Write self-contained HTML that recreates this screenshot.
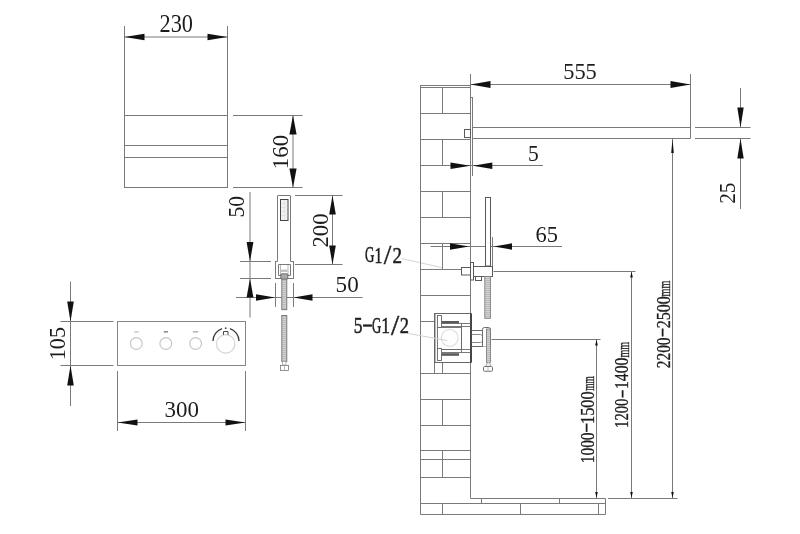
<!DOCTYPE html>
<html><head><meta charset="utf-8"><title>Drawing</title>
<style>html,body{margin:0;padding:0;background:#fff;width:800px;height:534px;overflow:hidden}svg{display:block;filter:grayscale(1)}</style>
</head><body>
<svg width="800" height="534" viewBox="0 0 800 534">
<defs><pattern id="rib" width="3" height="2" patternUnits="userSpaceOnUse"><rect width="3" height="2" fill="#d2d2d2"/><rect width="3" height="0.7" fill="#b0b0b0"/></pattern></defs>
<rect width="800" height="534" fill="#fff"/>
<g fill="none"><circle cx="136.3" cy="343.5" r="5.9" fill="none" stroke="#c6c6c6" stroke-width="1.2"/><rect x="134.1" y="331.2" width="4.5" height="1.3" fill="#c4c4c4"/><circle cx="165.8" cy="343.5" r="5.9" fill="none" stroke="#c6c6c6" stroke-width="1.2"/><rect x="163.7" y="331.2" width="4.3" height="1.3" fill="#777"/><circle cx="195.6" cy="343.5" r="5.9" fill="none" stroke="#c6c6c6" stroke-width="1.2"/><rect x="192.8" y="331.2" width="5.5" height="1.3" fill="#aaa"/><circle cx="225.7" cy="343.9" r="9.2" fill="none" stroke="#d4d4d4" stroke-width="1.2"/><line x1="401.5" y1="258.5" x2="442.5" y2="267.8" stroke="#d4d4d4" stroke-width="1"/></g>
<g stroke="#7a7a7a" stroke-width="1" fill="none"><line x1="124.5" y1="26" x2="124.5" y2="188"/><line x1="227.5" y1="26" x2="227.5" y2="188"/><line x1="124.5" y1="115.5" x2="227.5" y2="115.5"/><line x1="124.5" y1="145.5" x2="227.5" y2="145.5"/><line x1="124.5" y1="157.5" x2="227.5" y2="157.5"/><line x1="124.5" y1="187.5" x2="227.5" y2="187.5"/><line x1="124.5" y1="37" x2="227.5" y2="37"/><line x1="233" y1="115.5" x2="302.5" y2="115.5"/><line x1="233" y1="187.5" x2="302.5" y2="187.5"/><line x1="293" y1="115.5" x2="293" y2="187.5"/><line x1="277.5" y1="196" x2="277.5" y2="261.5"/><line x1="290.5" y1="196" x2="290.5" y2="261.5"/><line x1="277.5" y1="195.5" x2="290.5" y2="195.5"/><line x1="277.5" y1="261.5" x2="275.5" y2="261.5"/><line x1="293.5" y1="261.5" x2="290.5" y2="261.5"/><line x1="275.5" y1="261" x2="275.5" y2="279"/><line x1="293.5" y1="261" x2="293.5" y2="279"/><line x1="275" y1="278.5" x2="281" y2="278.5"/><line x1="287.5" y1="278.5" x2="294" y2="278.5"/><line x1="278.5" y1="264.5" x2="290.5" y2="264.5"/><line x1="278.5" y1="264.5" x2="278.5" y2="275.5"/><line x1="290.5" y1="264.5" x2="290.5" y2="275.5"/><line x1="278.5" y1="275.5" x2="281" y2="275.5"/><line x1="287.5" y1="275.5" x2="290.5" y2="275.5"/><line x1="275.5" y1="283" x2="275.5" y2="307"/><line x1="293.5" y1="283" x2="293.5" y2="307"/><line x1="240" y1="261.5" x2="271" y2="261.5"/><line x1="240" y1="278.5" x2="271" y2="278.5"/><line x1="250" y1="192" x2="250" y2="317.5"/><line x1="295" y1="195.5" x2="342.5" y2="195.5"/><line x1="295" y1="264.5" x2="342.5" y2="264.5"/><line x1="332.5" y1="195.5" x2="332.5" y2="264.5"/><line x1="236" y1="297.5" x2="362.5" y2="297.5"/><line x1="60.5" y1="321.5" x2="113.5" y2="321.5"/><line x1="60.5" y1="365.5" x2="113.5" y2="365.5"/><line x1="70.5" y1="281.5" x2="70.5" y2="406"/><line x1="117.5" y1="371" x2="117.5" y2="431"/><line x1="245.5" y1="371" x2="245.5" y2="431"/><line x1="117.5" y1="422.5" x2="245.5" y2="422.5"/><line x1="420.5" y1="85" x2="420.5" y2="514.5"/><line x1="470.5" y1="74" x2="470.5" y2="498.5"/><line x1="420.5" y1="85.5" x2="470.5" y2="85.5"/><line x1="420.5" y1="87.5" x2="470.5" y2="87.5"/><line x1="420.5" y1="113.5" x2="470.5" y2="113.5"/><line x1="420.5" y1="139.5" x2="470.5" y2="139.5"/><line x1="420.5" y1="165.5" x2="470.5" y2="165.5"/><line x1="420.5" y1="191.5" x2="470.5" y2="191.5"/><line x1="420.5" y1="217.5" x2="470.5" y2="217.5"/><line x1="420.5" y1="243.5" x2="470.5" y2="243.5"/><line x1="420.5" y1="269.5" x2="470.5" y2="269.5"/><line x1="420.5" y1="295.5" x2="470.5" y2="295.5"/><line x1="420.5" y1="373.5" x2="470.5" y2="373.5"/><line x1="420.5" y1="399.5" x2="470.5" y2="399.5"/><line x1="420.5" y1="425.5" x2="470.5" y2="425.5"/><line x1="420.5" y1="450.5" x2="470.5" y2="450.5"/><line x1="420.5" y1="459.5" x2="470.5" y2="459.5"/><line x1="420.5" y1="477.5" x2="470.5" y2="477.5"/><line x1="420.5" y1="321.5" x2="434.5" y2="321.5"/><line x1="442.5" y1="87.5" x2="442.5" y2="113.5"/><line x1="442.5" y1="139.5" x2="442.5" y2="165.5"/><line x1="442.5" y1="191.5" x2="442.5" y2="217.5"/><line x1="442.5" y1="243.5" x2="442.5" y2="269.5"/><line x1="442.5" y1="362" x2="442.5" y2="373.5"/><line x1="442.5" y1="399.5" x2="442.5" y2="425.5"/><line x1="442.5" y1="450.5" x2="442.5" y2="477.5"/><line x1="434.5" y1="362" x2="434.5" y2="373.5"/><line x1="470.5" y1="498.5" x2="605.5" y2="498.5"/><line x1="608" y1="498.5" x2="677.5" y2="498.5"/><line x1="420.5" y1="503.5" x2="605.5" y2="503.5"/><line x1="420.5" y1="514.5" x2="605.5" y2="514.5"/><line x1="605.5" y1="498.5" x2="605.5" y2="514.5"/><line x1="481.5" y1="498.5" x2="481.5" y2="503.5"/><line x1="559.5" y1="498.5" x2="559.5" y2="503.5"/><line x1="442.5" y1="503.5" x2="442.5" y2="514.5"/><line x1="520.5" y1="503.5" x2="520.5" y2="514.5"/><line x1="598.5" y1="503.5" x2="598.5" y2="514.5"/><line x1="472.5" y1="97" x2="472.5" y2="176"/><line x1="470.5" y1="97.5" x2="472.5" y2="97.5"/><line x1="472.5" y1="127.5" x2="690.5" y2="127.5"/><line x1="472.5" y1="138.5" x2="690.5" y2="138.5"/><line x1="690.5" y1="74" x2="690.5" y2="138.5"/><line x1="470.5" y1="84.5" x2="690.5" y2="84.5"/><line x1="695" y1="127.5" x2="750.5" y2="127.5"/><line x1="695" y1="138.5" x2="750.5" y2="138.5"/><line x1="740.5" y1="88" x2="740.5" y2="127.5"/><line x1="740.5" y1="138.5" x2="740.5" y2="209"/><line x1="430" y1="165.5" x2="543" y2="165.5"/><line x1="430.5" y1="246.5" x2="562" y2="246.5"/><line x1="492.5" y1="237" x2="492.5" y2="276"/><line x1="493.5" y1="271.5" x2="635.5" y2="271.5"/><line x1="631.5" y1="271.5" x2="631.5" y2="498"/><line x1="491.5" y1="339.5" x2="600.5" y2="339.5"/><line x1="596.5" y1="339.5" x2="596.5" y2="498"/><line x1="672.5" y1="138.5" x2="672.5" y2="498"/></g>
<g><rect x="280.5" y="199.5" width="7.5" height="21" fill="#f1f1f1" stroke="#444" stroke-width="1"/><path d="M281 203.5h6.5M281 207.5h6.5M281 211.5h6.5M281 215.5h6.5M284.5 200v20" stroke="#ddd" stroke-width="0.6"/><line x1="280.5" y1="265" x2="280.5" y2="275" stroke="#aaa" stroke-width="0.8"/><line x1="288" y1="265" x2="288" y2="275" stroke="#aaa" stroke-width="0.8"/><rect x="281" y="269.5" width="6.5" height="2.5" fill="#c4c4c4"/><rect x="280.8" y="273.8" width="7" height="5.4" rx="1" fill="#aaa" stroke="#555" stroke-width="0.8"/><rect x="281.8" y="279.2" width="5" height="30.5" fill="url(#rib)" stroke="#707070" stroke-width="0.9"/><rect x="281.8" y="315.5" width="5" height="46" fill="url(#rib)" stroke="#707070" stroke-width="0.9"/><rect x="282.5" y="361.5" width="3.5" height="3.5" fill="#fff" stroke="#999" stroke-width="0.7"/><rect x="280.5" y="365.5" width="8" height="5" fill="#fff" stroke="#777" stroke-width="0.8"/><line x1="284.5" y1="365.5" x2="284.5" y2="370.5" stroke="#999" stroke-width="0.7"/><rect x="117.5" y="321.5" width="128" height="44" fill="none" stroke="#858585" stroke-width="1"/><path d="M213 341 A13 13 0 0 1 222.1 328.6 M229.9 328.6 A13 13 0 0 1 239 341" fill="none" stroke="#3a3a3a" stroke-width="1.3"/><path d="M223.5 334.8 V331.5 H228 V334.8" fill="none" stroke="#444" stroke-width="1"/><circle cx="225.7" cy="328.2" r="0.9" fill="#444"/><rect x="464.5" y="129.5" width="6" height="8" fill="#fff" stroke="#5a5a5a" stroke-width="1"/><rect x="485.5" y="197.5" width="5" height="68.5" fill="#fff" stroke="#5a5a5a" stroke-width="1"/><rect x="461.5" y="267.5" width="9" height="7.5" fill="#fff" stroke="#5a5a5a" stroke-width="1"/><rect x="475.5" y="276.5" width="6" height="4" fill="#fff" stroke="#5a5a5a" stroke-width="1"/><rect x="470.5" y="262.5" width="3" height="17.5" fill="#fff" stroke="#5a5a5a" stroke-width="1"/><rect x="473.5" y="266.5" width="19" height="10" fill="#fff" stroke="#5a5a5a" stroke-width="1"/><rect x="484.8" y="276.5" width="5.6" height="41.8" fill="url(#rib)" stroke="#808080" stroke-width="0.9"/><rect x="434.5" y="313.5" width="36.5" height="49" fill="#fff" stroke="#666" stroke-width="1"/><line x1="471" y1="313.5" x2="471" y2="362.5" stroke="#333" stroke-width="1.7"/><line x1="435.6" y1="314" x2="435.6" y2="362" stroke="#9a9a9a" stroke-width="0.8"/><rect x="441.5" y="321" width="17.5" height="2.6" fill="#5a5a5a"/><rect x="441.5" y="353.2" width="17.5" height="2.6" fill="#5a5a5a"/><line x1="441.5" y1="323.5" x2="470.5" y2="323.5" stroke="#6a6a6a" stroke-width="0.9"/><line x1="441.5" y1="326.5" x2="470.5" y2="326.5" stroke="#6a6a6a" stroke-width="0.9"/><line x1="441.5" y1="349.5" x2="470.5" y2="349.5" stroke="#6a6a6a" stroke-width="0.9"/><line x1="441.5" y1="352.5" x2="470.5" y2="352.5" stroke="#6a6a6a" stroke-width="0.9"/><rect x="437.5" y="327.5" width="24" height="22" fill="none" stroke="#6a6a6a" stroke-width="0.9"/><line x1="461.5" y1="323.5" x2="461.5" y2="352.5" stroke="#6a6a6a" stroke-width="0.9"/><rect x="437.5" y="315.5" width="4" height="12" fill="#fff" stroke="#666" stroke-width="0.9"/><rect x="437.5" y="348.5" width="4" height="12" fill="#fff" stroke="#666" stroke-width="0.9"/><circle cx="449.7" cy="337.9" r="8.4" fill="none" stroke="#dadada" stroke-width="1.1"/><line x1="408.5" y1="333.5" x2="447" y2="340.5" stroke="#d2d2d2" stroke-width="1"/><line x1="471.5" y1="330.5" x2="482.5" y2="330.5" stroke="#6a6a6a" stroke-width="1"/><line x1="471.5" y1="346.5" x2="490.5" y2="346.5" stroke="#6a6a6a" stroke-width="1"/><path d="M471.5 334.5 H480.5 A2.5 4 0 0 1 480.5 342.5 H471.5" fill="none" stroke="#7a7a7a" stroke-width="0.9"/><path d="M482.5 346.5 V329.5 Q482.5 327.5 484.5 327.5 H488.5 Q490.5 327.5 490.5 329.5 V346.5" fill="#fff" stroke="#6a6a6a" stroke-width="1"/><rect x="486.5" y="329" width="4" height="33.5" fill="url(#rib)" stroke="#777" stroke-width="0.8"/><path d="M487.5 362.5 L485.5 366.5 H491 L489.5 362.5" fill="#eee" stroke="#888" stroke-width="0.7"/><rect x="483.5" y="366.5" width="9" height="4.8" rx="1.2" fill="#fff" stroke="#666" stroke-width="0.9"/><line x1="488" y1="367" x2="488" y2="371" stroke="#999" stroke-width="0.7"/></g>
<g fill="#111"><polygon points="124.50,37.00 144.50,33.80 144.50,40.20"/><polygon points="227.50,37.00 207.50,33.80 207.50,40.20"/><polygon points="293.00,115.50 289.40,134.50 296.60,134.50"/><polygon points="293.00,187.50 289.40,168.50 296.60,168.50"/><polygon points="250.00,261.50 246.60,242.00 253.40,242.00"/><polygon points="250.00,278.50 246.60,297.50 253.40,297.50"/><polygon points="332.50,195.50 329.20,214.50 335.80,214.50"/><polygon points="332.50,264.50 329.20,245.50 335.80,245.50"/><polygon points="275.00,297.50 256.00,294.30 256.00,300.70"/><polygon points="293.50,297.50 312.50,294.30 312.50,300.70"/><polygon points="70.50,321.50 67.20,301.50 73.80,301.50"/><polygon points="70.50,365.50 67.20,385.50 73.80,385.50"/><polygon points="117.50,422.50 137.50,419.40 137.50,425.60"/><polygon points="245.50,422.50 225.50,419.40 225.50,425.60"/><polygon points="470.50,84.50 490.50,81.10 490.50,87.90"/><polygon points="690.50,84.50 670.50,81.10 670.50,87.90"/><polygon points="740.50,127.50 737.30,107.50 743.70,107.50"/><polygon points="740.50,138.50 737.30,158.50 743.70,158.50"/><polygon points="470.50,165.70 450.50,162.50 450.50,168.90"/><polygon points="472.80,165.70 492.30,162.50 492.30,168.90"/><polygon points="469.00,246.50 450.00,243.30 450.00,249.70"/><polygon points="493.50,246.50 512.00,243.30 512.00,249.70"/><polygon points="631.50,271.50 630.20,277.50 632.80,277.50"/><polygon points="631.50,498.00 630.20,492.00 632.80,492.00"/><polygon points="596.50,339.50 595.20,345.50 597.80,345.50"/><polygon points="596.50,498.00 595.20,492.00 597.80,492.00"/><polygon points="672.50,139.00 671.20,153.00 673.80,153.00"/><polygon points="672.50,498.00 671.20,492.00 673.80,492.00"/></g>
<g fill="#1c1c1c" font-family="Liberation Serif">
<text transform="matrix(0.223239 0 0 0.243284 159.507 32.113)" font-size="100">230</text>
<text transform="matrix(0 -0.228467 0.236765 0 288.326 169.156)" font-size="100">160</text>
<text transform="matrix(0 -0.214444 0.238806 0 244.222 217.587)" font-size="100">50</text>
<text transform="matrix(0 -0.226761 0.238806 0 328.122 247.507)" font-size="100">200</text>
<text transform="matrix(0.231111 0 0 0.228358 335.613 291.943)" font-size="100">50</text>
<text transform="matrix(0 -0.221168 0.227941 0 65.344 360.191)" font-size="100">105</text>
<text transform="matrix(0.229787 0 0 0.231343 164.451 416.837)" font-size="100">300</text>
<text transform="matrix(0.223571 0 0 0.227273 563.259 79.273)" font-size="100">555</text>
<text transform="matrix(0.215000 0 0 0.221212 528.110 161.079)" font-size="100">5</text>
<text transform="matrix(0 -0.214130 0.237879 0 735.362 203.857)" font-size="100">25</text>
<text transform="matrix(0.225000 0 0 0.228358 535.400 241.543)" font-size="100">65</text>
<text transform="matrix(0.129231 0 0 0.226866 364.883 262.446)" font-size="100" stroke="#222" stroke-width="0.45" vector-effect="non-scaling-stroke">G</text>
<text transform="matrix(0.157143 0 0 0.222727 374.486 262.700)" font-size="100" stroke="#222" stroke-width="0.45" vector-effect="non-scaling-stroke">1</text>
<text transform="matrix(0.271429 0 0 0.274242 383.800 263.726)" font-size="100" stroke="#222" stroke-width="0.45" vector-effect="non-scaling-stroke">/</text>
<text transform="matrix(0.190000 0 0 0.230769 392.440 262.700)" font-size="100" stroke="#222" stroke-width="0.45" vector-effect="non-scaling-stroke">2</text>
<text transform="matrix(0.175000 0 0 0.230303 353.650 333.270)" font-size="100" stroke="#222" stroke-width="0.45" vector-effect="non-scaling-stroke">5</text>
<text transform="matrix(0.169231 0 0 0.300000 363.169 332.600)" font-size="100" stroke="#222" stroke-width="0.45" vector-effect="non-scaling-stroke">–</text>
<text transform="matrix(0.127692 0 0 0.235821 371.889 333.328)" font-size="100" stroke="#222" stroke-width="0.45" vector-effect="non-scaling-stroke">G</text>
<text transform="matrix(0.174286 0 0 0.233333 381.331 333.200)" font-size="100" stroke="#222" stroke-width="0.45" vector-effect="non-scaling-stroke">1</text>
<text transform="matrix(0.296429 0 0 0.284848 390.900 334.615)" font-size="100" stroke="#222" stroke-width="0.45" vector-effect="non-scaling-stroke">/</text>
<text transform="matrix(0.185000 0 0 0.227692 399.860 332.900)" font-size="100" stroke="#222" stroke-width="0.45" vector-effect="non-scaling-stroke">2</text>
<text transform="matrix(0 -0.154687 0.188060 0 669.824 368.319)" font-size="100" stroke="#222" stroke-width="0.3" vector-effect="non-scaling-stroke">2200</text>
<text transform="matrix(0 -0.150000 0.260000 0 669.360 336.350)" font-size="100" stroke="#222" stroke-width="0.3" vector-effect="non-scaling-stroke">–</text>
<text transform="matrix(0 -0.161458 0.188060 0 669.824 328.346)" font-size="100" stroke="#222" stroke-width="0.3" vector-effect="non-scaling-stroke">2500</text>
<text transform="matrix(0 -0.100658 0.163830 0 670.200 296.401)" font-size="100" stroke="#222" stroke-width="0.3" vector-effect="non-scaling-stroke">mm</text>
<text transform="matrix(0 -0.147059 0.185294 0 628.229 427.924)" font-size="100" stroke="#222" stroke-width="0.3" vector-effect="non-scaling-stroke">1200</text>
<text transform="matrix(0 -0.138462 0.260000 0 628.960 397.162)" font-size="100" stroke="#222" stroke-width="0.3" vector-effect="non-scaling-stroke">–</text>
<text transform="matrix(0 -0.157219 0.185294 0 628.229 389.015)" font-size="100" stroke="#222" stroke-width="0.3" vector-effect="non-scaling-stroke">1400</text>
<text transform="matrix(0 -0.100658 0.161702 0 628.600 357.501)" font-size="100" stroke="#222" stroke-width="0.3" vector-effect="non-scaling-stroke">mm</text>
<text transform="matrix(0 -0.154545 0.183824 0 593.932 463.291)" font-size="100" stroke="#222" stroke-width="0.3" vector-effect="non-scaling-stroke">1000</text>
<text transform="matrix(0 -0.159615 0.260000 0 593.360 431.840)" font-size="100" stroke="#222" stroke-width="0.3" vector-effect="non-scaling-stroke">–</text>
<text transform="matrix(0 -0.163102 0.183824 0 593.932 423.968)" font-size="100" stroke="#222" stroke-width="0.3" vector-effect="non-scaling-stroke">1500</text>
<text transform="matrix(0 -0.094079 0.176596 0 594.300 390.788)" font-size="100" stroke="#222" stroke-width="0.3" vector-effect="non-scaling-stroke">mm</text>
</g>
</svg>
</body></html>
